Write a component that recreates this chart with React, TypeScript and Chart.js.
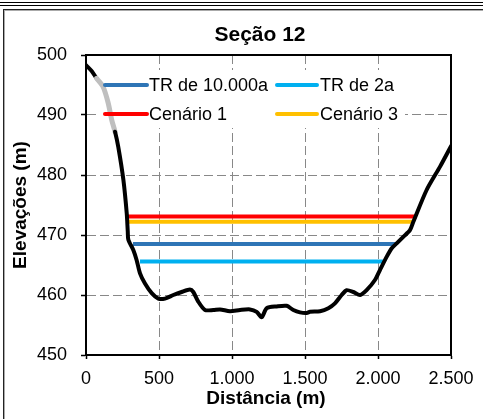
import React, { useEffect, useRef } from 'react';
import { Chart, registerables } from 'chart.js';

Chart.register(...registerables);

// ---- Data ----
const profileDist = [
  0, 40, 73, 117, 152, 176, 199, 221, 256, 279, 286, 290, 324, 347, 370, 404, 450, 495, 541, 598,
  655, 712, 735, 769, 815, 872, 918, 986, 1055, 1123, 1169, 1203, 1238, 1306, 1374, 1420, 1466,
  1512, 1534, 1603, 1660, 1705, 1751, 1785, 1831, 1877, 1922, 1979, 2014, 2060, 2094, 2128, 2173,
  2219, 2242, 2333, 2425, 2500,
];
const profileElev = [
  498.3, 497.3, 496.1, 494.7, 492.0, 489.2, 487.2, 484.7, 479.2, 473.6, 470.6, 469.2, 467.5, 465.8,
  463.6, 461.9, 460.3, 459.4, 459.4, 460.0, 460.5, 460.9, 460.5, 458.9, 457.5, 457.5, 457.6, 457.3,
  457.5, 457.6, 457.2, 456.3, 457.8, 458.1, 458.2, 457.5, 457.1, 457.0, 457.2, 457.3, 457.8, 458.6,
  460.0, 460.8, 460.5, 460.0, 460.8, 462.5, 464.2, 466.4, 467.8, 468.6, 469.7, 470.8, 472.2, 477.5,
  481.4, 484.8,
];
const grayFrom = 73;
const grayTo = 199;

const seriesNames = ['TR de 10.000a', 'TR de 2a', 'Cenário 1', 'Cenário 3'];
const seriesLevels = [468.5, 465.6, 473.1, 472.2];
const seriesStart = [322, 370, 281, 281];
const seriesEnd = [2128, 2034, 2262, 2242];
const seriesColors = ['#2E75B6', '#00B0F0', '#FF0000', '#FFC000'];

const xTickValues = [0, 500, 1000, 1500, 2000, 2500];
const xTickLabels = ['0', '500', '1.000', '1.500', '2.000', '2.500'];
const yTickValues = [450, 460, 470, 480, 490, 500];

const chartTitle = 'Seção 12';
const xTitle = 'Distância (m)';
const yTitle = 'Elevações (m)';

const FONT = '"Liberation Sans", Arial, sans-serif';

const decor = {
  id: 'decor',
  beforeDatasetsDraw(chart: any) {
    const { ctx, chartArea: a } = chart;
    ctx.save();
    ctx.fillStyle = '#ffffff';
    ctx.fillRect(a.left + 11, a.top + 15, 308, 58);
    ctx.restore();
  },
  afterDatasetsDraw(chart: any) {
    const { ctx, chartArea: a } = chart;
    ctx.save();
    // top / right plot border
    ctx.strokeStyle = '#000';
    ctx.lineWidth = 2;
    ctx.beginPath();
    ctx.moveTo(a.left, a.top);
    ctx.lineTo(a.right, a.top);
    ctx.lineTo(a.right, a.bottom);
    ctx.stroke();

    // legend
    const rows = [a.top + 30, a.top + 59];
    const cols = [
      { x0: a.left + 19, x1: a.left + 61, tx: a.left + 63 },
      { x0: a.left + 191, x1: a.left + 231, tx: a.left + 234 },
    ];
    ctx.font = `18px ${FONT}`;
    ctx.textAlign = 'left';
    ctx.textBaseline = 'middle';
    for (let i = 0; i < seriesNames.length; i++) {
      const r = rows[Math.floor(i / 2)];
      const c = cols[i % 2];
      ctx.strokeStyle = seriesColors[i];
      ctx.lineWidth = 4;
      ctx.lineCap = 'round';
      ctx.beginPath();
      ctx.moveTo(c.x0, r);
      ctx.lineTo(c.x1, r);
      ctx.stroke();
      ctx.fillStyle = '#000';
      ctx.fillText(seriesNames[i], c.tx, r + 1);
    }

    // titles
    ctx.fillStyle = '#000';
    ctx.textBaseline = 'alphabetic';
    ctx.textAlign = 'center';
    ctx.font = `bold 21px ${FONT}`;
    ctx.fillText(chartTitle, 260, 40.5);
    ctx.font = `bold 19px ${FONT}`;
    ctx.fillText(xTitle, 266, 404);
    ctx.translate(26, 205);
    ctx.rotate(-Math.PI / 2);
    ctx.fillText(yTitle, 0, 0);
    ctx.restore();
  },
};

export default function App() {
  const ref = useRef<HTMLCanvasElement | null>(null);

  useEffect(() => {
    if (!ref.current) return;
    const profile = profileDist.map((x, i) => ({ x, y: profileElev[i] }));
    const levelSets = seriesNames.map((name, i) => ({
      label: name,
      data: [
        { x: seriesStart[i], y: seriesLevels[i] },
        { x: seriesEnd[i], y: seriesLevels[i] },
      ],
      borderColor: seriesColors[i],
      backgroundColor: seriesColors[i],
      borderWidth: 4,
      pointRadius: 0,
      tension: 0,
    }));
    const chart = new Chart(ref.current, {
      type: 'line',
      data: {
        datasets: [
          {
            label: 'Terreno',
            data: profile,
            borderColor: '#000',
            borderWidth: 4,
            pointRadius: 0,
            tension: 0.25,
            borderJoinStyle: 'round',
            borderCapStyle: 'round',
            segment: {
              borderColor: (c: any) =>
                c.p0.parsed.x >= grayFrom && c.p1.parsed.x <= grayTo ? '#BFBFBF' : undefined,
              borderWidth: (c: any) =>
                c.p0.parsed.x >= grayFrom && c.p1.parsed.x <= grayTo ? 5 : undefined,
            },
          } as any,
          ...levelSets,
        ],
      },
      options: {
        responsive: false,
        animation: false,
        devicePixelRatio: 1,
        layout: { padding: { left: 0, top: 55, right: 32, bottom: 0 } },
        plugins: { legend: { display: false }, title: { display: false }, tooltip: { enabled: false } },
        scales: {
          x: {
            type: 'linear',
            min: 0,
            max: 2500,
            afterFit: (s: any) => {
              s.height = 64;
            },
            afterBuildTicks: (s: any) => {
              s.ticks = xTickValues.map((v) => ({ value: v }));
            },
            ticks: {
              autoSkip: false,
              maxRotation: 0,
              color: '#000',
              padding: 9,
              font: { family: FONT, size: 18 },
              callback: (v: any) => {
                const i = xTickValues.indexOf(Number(v));
                return i >= 0 ? xTickLabels[i] : '';
              },
            },
            grid: {
              color: '#888888',
              lineWidth: 1,
              tickLength: 4,
              tickColor: '#000',
              tickWidth: 1.5,
              tickBorderDash: [1, 0],
            },
            border: { display: true, color: '#000', width: 2, dash: [9, 4] },
          },
          y: {
            type: 'linear',
            min: 450,
            max: 500,
            afterFit: (s: any) => {
              s.width = 86;
            },
            afterBuildTicks: (s: any) => {
              s.ticks = yTickValues.map((v) => ({ value: v }));
            },
            ticks: {
              color: '#000',
              padding: 14,
              font: { family: FONT, size: 18 },
            },
            grid: {
              color: '#888888',
              lineWidth: 1,
              tickLength: 5,
              tickColor: '#000',
              tickWidth: 1.5,
              tickBorderDash: [1, 0],
            },
            border: { display: true, color: '#000', width: 2, dash: [9, 4] },
          },
        },
      },
      plugins: [decor],
    } as any);
    return () => chart.destroy();
  }, []);

  return (
    <div
      style={{
        position: 'absolute',
        left: 0,
        top: 0,
        width: 483,
        height: 419,
        background: '#fff',
        overflow: 'hidden',
      }}
    >
      <div style={{ position: 'absolute', left: 0, top: 2, width: 483, height: 1, background: '#000' }} />
      <div style={{ position: 'absolute', left: 0, top: 5, width: 483, height: 1, background: '#000' }} />
      <div style={{ position: 'absolute', left: 3, top: 9, width: 480, height: 1, background: '#222' }} />
      <div style={{ position: 'absolute', left: 4, top: 10, width: 479, height: 1, background: '#aaa' }} />
      <div style={{ position: 'absolute', left: 3, top: 9, width: 1, height: 410, background: '#222' }} />
      <div style={{ position: 'absolute', left: 4, top: 10, width: 1, height: 409, background: '#aaa' }} />
      <canvas
        ref={ref}
        width={483}
        height={419}
        style={{ position: 'absolute', left: 0, top: 0, width: 483, height: 419 }}
      />
    </div>
  );
}
